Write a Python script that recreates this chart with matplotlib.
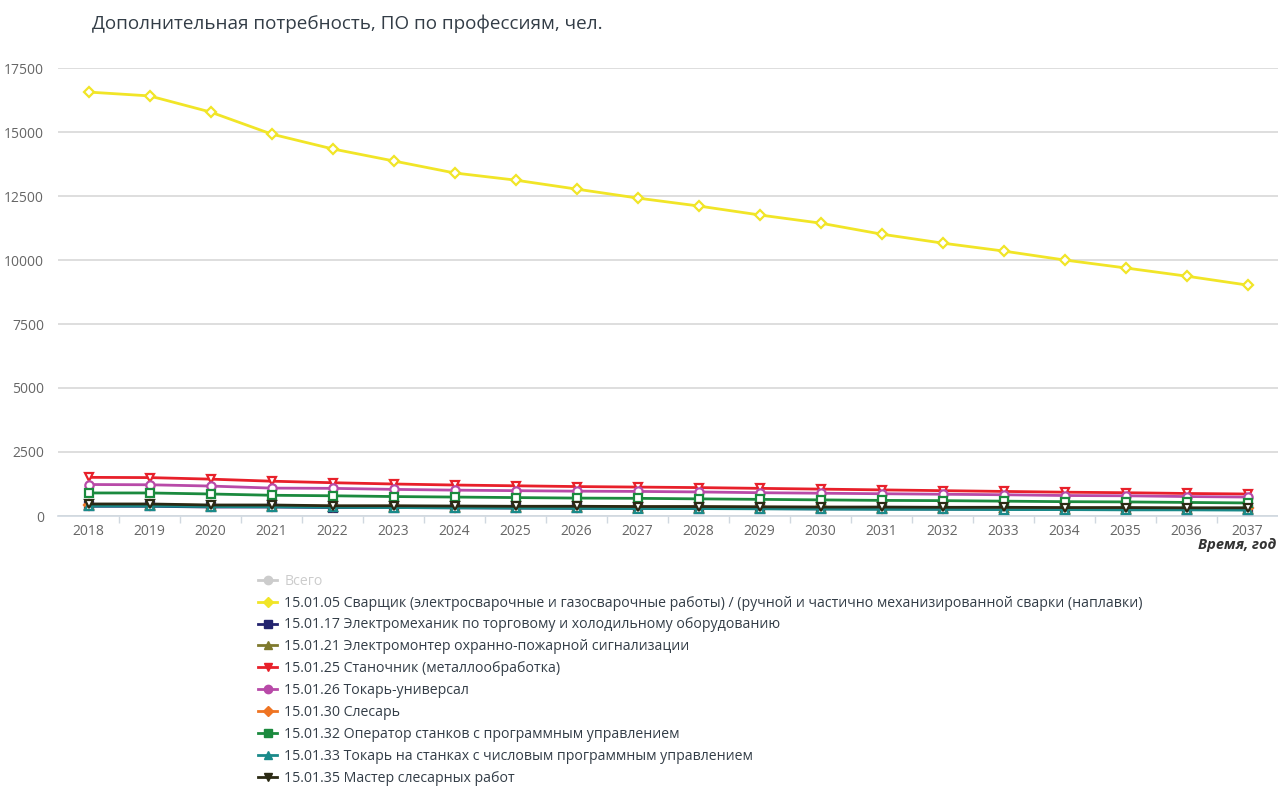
import numpy as np
import matplotlib.pyplot as plt
from matplotlib.lines import Line2D

plt.rcParams['font.family'] = ['Open Sans', 'DejaVu Sans']

years = [str(y) for y in range(2018, 2038)]

welder = [16560, 16410, 15780, 14920, 14340, 13870, 13400, 13120, 12770, 12420,
          12110, 11760, 11440, 11010, 10660, 10350, 10000, 9690, 9370, 9020]
electromech = [380, 380, 350, 350, 330, 330, 320, 310, 300, 300,
               290, 290, 280, 280, 270, 270, 260, 260, 250, 250]
alarm = [420, 420, 390, 390, 360, 360, 350, 340, 340, 330,
         330, 320, 320, 310, 300, 300, 290, 290, 280, 280]
machinist = [1510, 1500, 1440, 1360, 1300, 1250, 1210, 1180, 1150, 1130,
             1110, 1080, 1050, 1020, 990, 960, 930, 910, 880, 860]
turner = [1230, 1220, 1170, 1090, 1080, 1040, 1010, 990, 970, 960,
          940, 910, 890, 870, 850, 830, 800, 790, 760, 740]
fitter = [440, 440, 410, 410, 380, 380, 370, 360, 360, 350,
          350, 340, 340, 330, 320, 320, 310, 310, 300, 300]
operator = [900, 900, 860, 810, 790, 760, 740, 720, 700, 690,
            670, 650, 630, 610, 600, 580, 560, 550, 530, 510]
cnc_turner = [390, 390, 370, 360, 340, 330, 320, 310, 300, 290,
              290, 280, 270, 260, 260, 250, 250, 240, 240, 230]
master = [470, 470, 430, 430, 400, 400, 390, 380, 380, 370,
          370, 360, 350, 350, 340, 340, 330, 330, 320, 320]

series = [
    ('15.01.05 Сварщик (электросварочные и газосварочные работы) / (ручной и частично механизированной сварки (наплавки)', welder, '#f1e527', 'D'),
    ('15.01.17 Электромеханик по торговому и холодильному оборудованию', electromech, '#22236e', 's'),
    ('15.01.21 Электромонтер охранно-пожарной сигнализации', alarm, '#7f7a2e', '^'),
    ('15.01.25 Станочник (металлообработка)', machinist, '#e8202a', 'v'),
    ('15.01.26 Токарь-универсал', turner, '#b84aa8', 'o'),
    ('15.01.30 Слесарь', fitter, '#ef7422', 'D'),
    ('15.01.32 Оператор станков с программным управлением', operator, '#1b8a3e', 's'),
    ('15.01.33 Токарь на станках с числовым программным управлением', cnc_turner, '#1a8a8a', '^'),
    ('15.01.35 Мастер слесарных работ', master, '#2b2a14', 'v'),
]

fig = plt.figure(figsize=(12.78, 7.87), dpi=100)
ax = fig.add_axes([58 / 1278, 1 - 516 / 787, 1 - 58 / 1278, (516 - 68) / 787])

x = np.arange(len(years))
for name, vals, color, m in series:
    ax.plot(x, vals, color=color, lw=2, marker=m, markersize=6 if m != 'D' else 5,
            markerfacecolor='white', markeredgecolor=color, markeredgewidth=1.6, zorder=3)

ax.set_xlim(-0.5, len(years) - 0.5)
ax.set_ylim(0, 17500)
ax.set_yticks(np.arange(0, 17501, 2500))
ax.set_yticklabels([str(v) for v in range(0, 17501, 2500)])
ax.set_xticks(x)
ax.set_xticklabels(years)
ax.set_xticks(np.arange(0.5, len(years) - 0.5, 1), minor=True)
ax.tick_params(axis='x', which='major', length=0, pad=6, labelsize=10, labelcolor='#666666')
ax.tick_params(axis='x', which='minor', length=5, color='#d0d8e0', width=1)
ax.tick_params(axis='y', length=0, pad=10, labelsize=10, labelcolor='#666666')
ax.grid(axis='y', color='#d8d8d8', lw=1.2)
ax.set_axisbelow(True)
for s in ['top', 'right', 'left']:
    ax.spines[s].set_visible(False)
ax.spines['bottom'].set_color('#d0d8e0')
ax.spines['bottom'].set_linewidth(1.2)

fig.text(92 / 1278, 1 - 24 / 787, 'Дополнительная потребность, ПО по профессиям, чел.',
         fontsize=13.6, color='#333d47', va='center', ha='left')
fig.text(1 - 2 / 1278, 1 - 545 / 787, 'Время, год', fontsize=10.5, fontweight='bold',
         fontstyle='italic', color='#333333', ha='right', va='center')

handles = [Line2D([], [], color='#cccccc', lw=2, marker='o', markersize=6)]
labels = ['Всего']
for name, vals, color, m in series:
    handles.append(Line2D([], [], color=color, lw=2, marker=m, markersize=6 if m != 'D' else 5))
    labels.append(name)
leg = fig.legend(handles, labels, loc='upper left', bbox_to_anchor=(252 / 1278, 1 - 568 / 787),
                 frameon=False, fontsize=10.15, handlelength=1.4, handletextpad=0.5,
                 labelspacing=0.49, borderaxespad=0)
for i, t in enumerate(leg.get_texts()):
    t.set_color('#cccccc' if i == 0 else '#333d47')

fig.savefig('out.png', dpi=100)
